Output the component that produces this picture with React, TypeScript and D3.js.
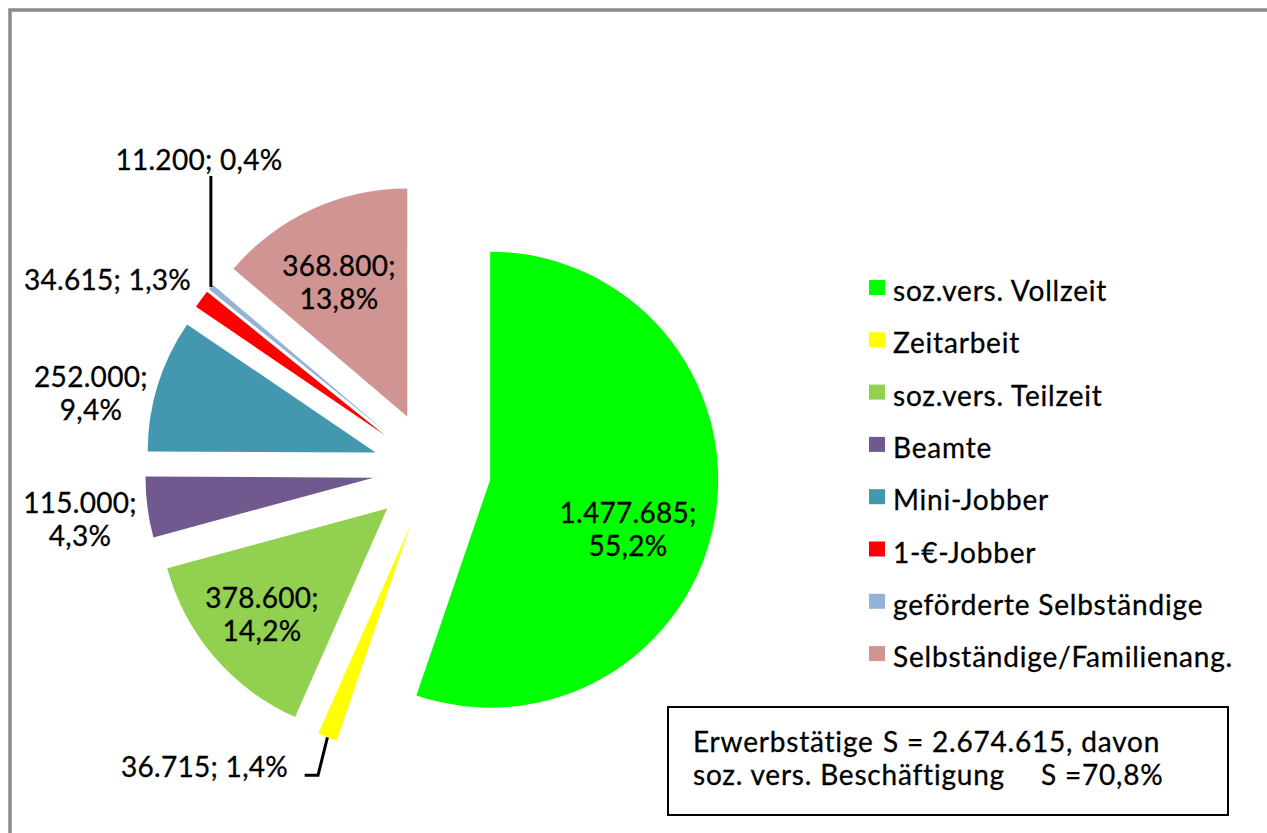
import React from "react";
import * as d3 from "d3";

const categories = [
  "soz.vers. Vollzeit",
  "Zeitarbeit",
  "soz.vers. Teilzeit",
  "Beamte",
  "Mini-Jobber",
  "1-€-Jobber",
  "geförderte Selbständige",
  "Selbständige/Familienang.",
];
const values = [1477685, 36715, 378600, 115000, 252000, 34615, 11200, 368800];
const colors = ["#00FF00", "#FFFF00", "#92D050", "#71598F", "#4398B0", "#FF0000", "#95B3D7", "#D09492"];
// label placement relative to each exploded slice apex (polar: degrees clockwise from 12 o'clock, px)
const labelAngles = [110.0, 220.37, 229.6, 261.8, 281.6, 299.2, 325.35, 332.9];
const labelRadii = [146.7, 318.0, 164.4, 296.5, 290.6, 317.4, 329.9, 149.7];
const labelTwoLines = [true, false, true, true, true, false, false, true];

const W = 1267;
const H = 833;
const FONT = "Lato, 'Open Sans', sans-serif";
const FS = 28;

const locale = d3.formatLocale({ decimal: ",", thousands: ".", grouping: [3], currency: ["", "€"] });
const fmtInt = locale.format(",d");
const fmtPct = locale.format(".1f");

const textStyle = { stroke: "#000", strokeWidth: 0.3 };

export default function App() {
  const cx = 432;
  const cy = 470;
  const R = 228;
  const explode = 59;
  const total = d3.sum(values);

  const pie = d3
    .pie<number>()
    .sort(null)
    .value((d) => d)
    .startAngle(0)
    .endAngle(2 * Math.PI);
  const arcs = pie(values);
  const arc = d3.arc<d3.PieArcDatum<number>>().innerRadius(0).outerRadius(R);

  const polar = (a: number, r: number): [number, number] => [r * Math.sin(a), -r * Math.cos(a)];

  return (
    <svg
      width={W}
      height={H}
      style={{ position: "absolute", left: 0, top: 0, background: "#fff" }}
      fontFamily={FONT}
    >
      <rect x={0} y={0} width={W} height={H} fill="#fff" />
      <rect x={10} y={10} width={W + 50} height={H + 50} fill="none" stroke="#8a8a8a" strokeWidth={3.5} />

      {arcs.map((a, i) => {
        const mid = (a.startAngle + a.endAngle) / 2;
        const [ox, oy] = polar(mid, explode);
        const apexX = cx + ox;
        const apexY = cy + oy;
        const [lx, ly] = polar((labelAngles[i] * Math.PI) / 180, labelRadii[i]);
        const tx = apexX + lx;
        const ty = apexY + ly;
        const pct = fmtPct((values[i] / total) * 100) + "%";
        const v = fmtInt(values[i]);
        const [tipDx, tipDy] = polar(mid, R);
        const tipX = apexX + tipDx;
        const tipY = apexY + tipDy;
        return (
          <g key={i}>
            <path d={arc(a) || ""} transform={`translate(${apexX},${apexY})`} fill={colors[i]} />
            {labelTwoLines[i] ? (
              <text textAnchor="middle" fontSize={FS} fill="#000" letterSpacing={0.3} style={textStyle}>
                <tspan x={tx} y={ty - 7.25}>{v + ";"}</tspan>
                <tspan x={tx} y={ty - 7.25 + 33.5}>{pct}</tspan>
              </text>
            ) : (
              <text x={tx} y={ty + 9.5} textAnchor="middle" fontSize={FS} fill="#000" letterSpacing={0.3} style={textStyle}>
                {v + "; " + pct}
              </text>
            )}
            {i === 6 && (
              <line x1={tipX} y1={tipY} x2={tipX} y2={ty + 15} stroke="#000" strokeWidth={3} />
            )}
            {i === 1 && (
              <polyline
                points={`${tipX},${tipY} ${tipX - 9.4},${ty + 8} ${tipX - 22.8},${ty + 8}`}
                fill="none"
                stroke="#000"
                strokeWidth={3}
              />
            )}
          </g>
        );
      })}

      {categories.map((c, i) => (
        <g key={c} transform={`translate(869,${280 + i * 52.3})`}>
          <rect x={0} y={0} width={16} height={15} fill={colors[i]} />
          <text x={24} y={21} fontSize={FS} fill="#000" letterSpacing={0.8} style={textStyle}>
            {c}
          </text>
        </g>
      ))}

      <rect x={668} y={707} width={560} height={108} fill="#fff" stroke="#000" strokeWidth={2} />
      <text fontSize={FS} fill="#000" letterSpacing={0.8} style={textStyle}>
        <tspan x={693} y={752}>Erwerbstätige</tspan>
        <tspan x={883} y={752}>S</tspan>
        <tspan x={907} y={752}>= 2.674.615, davon</tspan>
        <tspan x={693} y={785}>soz. vers. Beschäftigung</tspan>
        <tspan x={1041} y={785}>S =70,8%</tspan>
      </text>
    </svg>
  );
}
